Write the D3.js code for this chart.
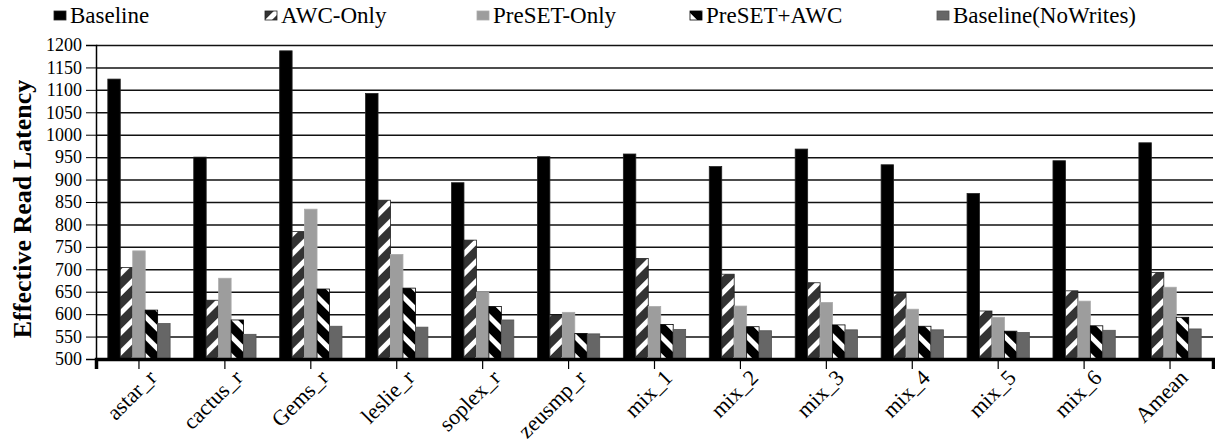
<!DOCTYPE html>
<html>
<head>
<meta charset="utf-8">
<script src="https://cdn.jsdelivr.net/npm/d3@7"></script>
<style>
  body { margin: 0; background: #fff; }
  text { font-family: "Liberation Serif", "Times New Roman", serif; }
</style>
</head>
<body>
<div id="chart"></div>
<script>
// categories + series
const categories = ["astar_r", "cactus_r", "Gems_r", "leslie_r", "soplex_r", "zeusmp_r",
  "mix_1", "mix_2", "mix_3", "mix_4", "mix_5", "mix_6", "Amean"];
const seriesNames = ["Baseline", "AWC-Only", "PreSET-Only", "PreSET+AWC", "Baseline(NoWrites)"];
const baseline     = [1124, 950, 1187, 1092, 893, 951, 957, 929, 968, 933, 869, 942, 982];
const awcOnly      = [704, 631, 784, 854, 765, 598, 724, 689, 670, 646, 607, 652, 693];
const presetOnly   = [741, 680, 834, 733, 649, 604, 617, 618, 626, 611, 593, 629, 660];
const presetAwc    = [609, 587, 656, 658, 617, 557, 577, 572, 576, 573, 562, 574, 593];
const noWrites     = [579, 555, 573, 571, 587, 556, 566, 563, 565, 565, 559, 564, 567];
const yTicks = d3.range(500, 1201, 50);

const allSeries = [baseline, awcOnly, presetOnly, presetAwc, noWrites];
const fills = ["#000", "url(#hatchUp)", "#9d9d9d", "url(#hatchDown)", "#666"];
const strokes = ["#222", "#222", "#aaa", "#000", "#555"];

const W = 1215, H = 448;
const margin = ({top: 45, bottom: 89, left: 96, right: 2});
const width = W - margin.left - margin.right;
const height = H - margin.top - margin.bottom;

const svg = d3.select('#chart')
  .append('svg')
  .attr('width', W)
  .attr('height', H);

// patterns for the hatched bars
const defs = svg.append('defs');
const up = defs.append('pattern')
  .attr('id', 'hatchUp')
  .attr('patternUnits', 'userSpaceOnUse')
  .attr('width', 14).attr('height', 14)
  .attr('patternTransform', 'rotate(45)');
up.append('rect').attr('width', 14).attr('height', 14).attr('fill', '#333');
up.append('rect').attr('width', 5).attr('height', 14).attr('fill', '#fff');

const down = defs.append('pattern')
  .attr('id', 'hatchDown')
  .attr('patternUnits', 'userSpaceOnUse')
  .attr('width', 14).attr('height', 14)
  .attr('patternTransform', 'rotate(-45)');
down.append('rect').attr('width', 14).attr('height', 14).attr('fill', '#000');
down.append('rect').attr('width', 5).attr('height', 14).attr('fill', '#fff');

const g = svg.append('g')
  .attr('transform', `translate(${margin.left},${margin.top})`);

const x0 = d3.scaleBand().domain(categories).range([0, width]);
const x1 = d3.scaleBand().domain(d3.range(seriesNames.length))
  .range([0, x0.bandwidth() * 0.725]);
const groupOffset = (x0.bandwidth() - x1.range()[1]) / 2;

const y = d3.scaleLinear().domain([500, 1200]).range([height, 0]);

// gridlines
g.append('g')
  .attr('class', 'grid')
  .call(d3.axisLeft(y).tickValues(yTicks).tickSize(-width).tickFormat(''))
  .call(s => s.select('.domain').remove())
  .call(s => s.selectAll('line').attr('stroke', '#111').attr('stroke-width', 1.5));

// y axis
g.append('g')
  .attr('class', 'y-axis')
  .call(d3.axisLeft(y).tickValues(yTicks).tickSize(10).tickPadding(4).tickFormat(d3.format('d')))
  .call(s => s.select('.domain').attr('stroke', '#000').attr('stroke-width', 1.5))
  .call(s => s.selectAll('text').attr('font-size', 18).attr('fill', '#000')
    .attr('font-family', '"Liberation Serif", serif'));

// bars
const groups = g.selectAll('.grp')
  .data(categories)
  .enter().append('g')
  .attr('class', 'grp')
  .attr('transform', d => `translate(${x0(d) + groupOffset},0)`);

groups.selectAll('rect')
  .data((d, i) => allSeries.map((s, k) => ({k: k, v: s[i]})))
  .enter().append('rect')
  .attr('x', d => x1(d.k))
  .attr('y', d => y(d.v))
  .attr('width', x1.bandwidth())
  .attr('height', d => height - y(d.v))
  .attr('fill', d => fills[d.k])
  .attr('stroke', d => strokes[d.k])
  .attr('stroke-width', 0.8);

// x axis
g.append('g')
  .attr('class', 'x-axis')
  .attr('transform', `translate(0,${height})`)
  .call(d3.axisBottom(x0).tickSize(10).tickFormat(''))
  .call(s => s.select('.domain').attr('stroke', '#000').attr('stroke-width', 3.5))
  .call(s => s.selectAll('.tick line').attr('stroke', '#000').attr('stroke-width', 1.2));

// rotated category labels
g.selectAll('.xlabel')
  .data(categories)
  .enter().append('text')
  .attr('class', 'xlabel')
  .attr('transform', d => `translate(${x0(d) + x0.bandwidth() / 2 + 19},${height + 20}) rotate(-45)`)
  .attr('text-anchor', 'end')
  .attr('font-size', 22)
  .text(d => d);

// y title
svg.append('text')
  .attr('transform', `translate(31,${margin.top + height / 2 + 7}) rotate(-90)`)
  .attr('text-anchor', 'middle')
  .attr('font-size', 26)
  .attr('font-weight', 'bold')
  .text('Effective Read Latency');

// legend
const legendX = [54, 265, 477, 690, 937];
const legend = svg.selectAll('.leg')
  .data(seriesNames)
  .enter().append('g')
  .attr('class', 'leg')
  .attr('transform', (d, i) => `translate(${legendX[i]},0)`);

legend.append('rect')
  .attr('x', 0).attr('y', 11)
  .attr('width', 12).attr('height', 9)
  .attr('fill', (d, i) => fills[i])
  .attr('stroke', (d, i) => strokes[i])
  .attr('stroke-width', 0.8);

legend.append('text')
  .attr('x', 16).attr('y', 23)
  .attr('font-size', 23)
  .text(d => d);
</script>
</body>
</html>
